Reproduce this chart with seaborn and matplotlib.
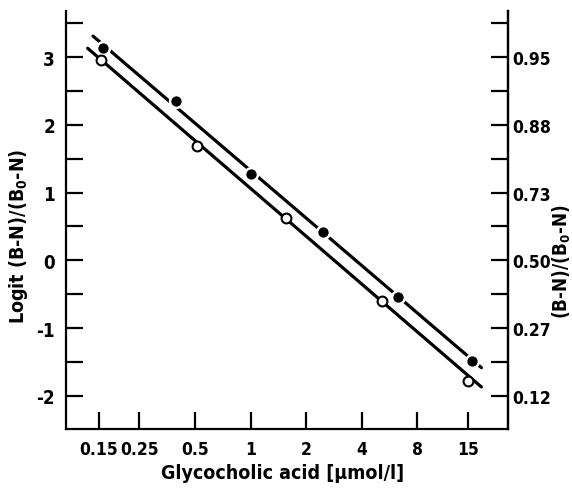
import matplotlib
matplotlib.use("Agg")
import matplotlib.pyplot as plt
import numpy as np
import pandas as pd
import seaborn as sns

# === Dati ===
conc_filled = [0.158, 0.395, 1.0, 2.47, 6.28, 15.8]
logit_filled = [3.14, 2.35, 1.27, 0.425, -0.54, -1.49]
conc_open = [0.154, 0.51, 1.55, 5.14, 15.1]
logit_open = [2.96, 1.69, 0.63, -0.60, -1.78]

# rette di regressione (estremi letti)
fit_filled_x = [0.14, 17.8]
fit_filled_y = [3.31, -1.585]
fit_open_x = [0.131, 17.8]
fit_open_y = [3.13, -1.87]

xticks = [0.15, 0.25, 0.5, 1, 2, 4, 8, 15]
xtick_labels = ["0.15", "0.25", "0.5", "1", "2", "4", "8", "15"]
yticks = [-2, -1, 0, 1, 2, 3]
right_labels = ["0.12", "0.27", "0.50", "0.73", "0.88", "0.95"]

sns.set_style("ticks")
plt.rcParams["font.family"] = ["DejaVu Sans"]
plt.rcParams["font.stretch"] = "condensed"
plt.rcParams["font.weight"] = "bold"
plt.rcParams["axes.labelweight"] = "bold"
plt.rcParams["mathtext.default"] = "bf"
plt.rcParams["axes.unicode_minus"] = False
for k in ["text.color", "axes.labelcolor", "xtick.color", "ytick.color", "axes.edgecolor"]:
    plt.rcParams[k] = "black"

fig = plt.figure(figsize=(5.72, 4.89), dpi=100)
W, H = 442, 418
ax = fig.add_axes([66 / 572, 1 - 430 / 489, W / 572, H / 489])

df_fit = pd.DataFrame({
    "x": fit_filled_x + fit_open_x,
    "y": fit_filled_y + fit_open_y,
    "serie": ["filled"] * 2 + ["open"] * 2,
})
sns.lineplot(data=df_fit, x="x", y="y", units="serie", estimator=None,
             color="black", lw=2.3, ax=ax, legend=False)

sns.scatterplot(x=conc_filled, y=logit_filled, s=85, color="black",
                edgecolor="white", linewidth=1.8, ax=ax, zorder=3)
sns.scatterplot(x=conc_open, y=logit_open, s=50, color="white",
                edgecolor="black", linewidth=1.5, ax=ax, zorder=3)

ax.set_xscale("log")
ax.set_xlim(0.1, 24.8)
ax.set_ylim(-2.49, 3.68)

ax.set_xticks(xticks)
ax.set_xticklabels(xtick_labels)
ax.xaxis.set_minor_locator(matplotlib.ticker.NullLocator())
ax.set_yticks(yticks)
ax.set_yticks(np.arange(-1.5, 3.6, 1.0), minor=True)

for s in ax.spines.values():
    s.set_linewidth(1.6)
ax.spines["top"].set_visible(False)
ax.tick_params(axis="both", which="both", direction="in", length=12, width=1.6)
ax.tick_params(axis="y", pad=8, labelsize=13.5)
ax.tick_params(axis="x", pad=8, labelsize=12.5)

ax2 = ax.twinx()
ax2.set_ylim(ax.get_ylim())
ax2.set_yticks(yticks)
ax2.set_yticklabels(right_labels)
ax2.set_yticks(np.arange(-1.5, 3.6, 1.0), minor=True)
ax2.spines["top"].set_visible(False)
ax2.spines["left"].set_visible(False)
ax2.spines["bottom"].set_visible(False)
ax2.spines["right"].set_linewidth(1.6)
ax2.tick_params(axis="y", which="both", direction="in", length=12, width=1.6,
                labelsize=12.5, pad=3)

ax.set_xlabel("Glycocholic acid [µmol/l]", fontsize=14)
ax.set_ylabel("Logit (B-N)/(B$_0$-N)", fontsize=14)
ax2.set_ylabel("(B-N)/(B$_0$-N)", fontsize=13.5, va="center")
ax.xaxis.set_label_coords((283 - 66) / W, (430 - 464) / H)
ax.yaxis.set_label_coords((30 - 66) / W, (430 - 236) / H)
ax2.yaxis.set_label_coords((562 - 66) / W, (430 - 262) / H)

plt.savefig("out.png", dpi=100)
